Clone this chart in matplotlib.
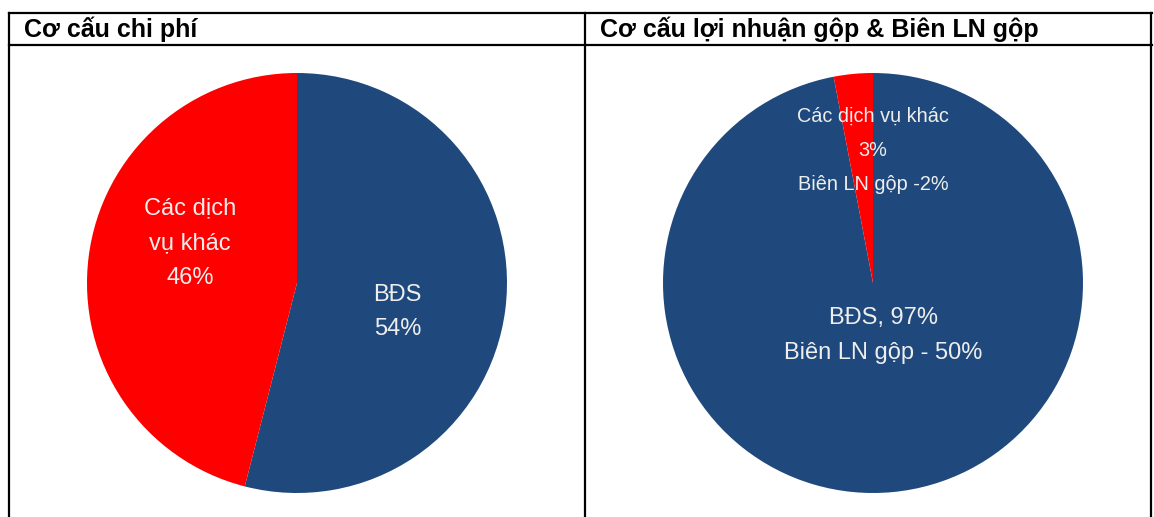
import matplotlib.pyplot as plt
from matplotlib.lines import Line2D

# Cơ cấu chi phí
chi_phi_nhan = ["BĐS", "Các dịch vụ khác"]
chi_phi = [54, 46]

# Cơ cấu lợi nhuận gộp
ln_nhan = ["BĐS", "Các dịch vụ khác"]
ln_gop = [97, 3]
bien_ln = [50, -2]

tieu_de = ["Cơ cấu chi phí", "Cơ cấu lợi nhuận gộp & Biên LN gộp"]

mau = ["#1F497D", "#FF0000"]
mau_chu = "#EEEEEE"

plt.rcParams['font.family'] = ['Liberation Sans', 'DejaVu Sans']

W, H = 1154, 517
fig = plt.figure(figsize=(W / 100, H / 100), dpi=100)
fig.patch.set_facecolor("white")


def px_ax(cx, cy, r):
    return fig.add_axes([(cx - r) / W, 1 - (cy + r) / H, 2 * r / W, 2 * r / H])


# khung bảng
def line(x0, y0, x1, y1):
    fig.add_artist(Line2D([x0 / W, x1 / W], [1 - y0 / H, 1 - y1 / H],
                          color="black", lw=1.6))

line(9, 13, 1152, 13)
line(9, 45, 1152, 45)
line(9, 13, 9, 517)
line(585, 13, 585, 517)
line(1151, 13, 1151, 517)

fig.text(24 / W, 1 - 29 / H, tieu_de[0], fontsize=18, fontweight="bold", va="center")
fig.text(600 / W, 1 - 29 / H, tieu_de[1], fontsize=18, fontweight="bold", va="center")

# biểu đồ trái
ax1 = px_ax(297, 283, 210)
ax1.pie(chi_phi, colors=mau, startangle=90, counterclock=False,
        wedgeprops=dict(linewidth=0))
ax1.set_xlim(-1, 1)
ax1.set_ylim(-1, 1)
ax1.text(-0.51, 0.19, "Các dịch\nvụ khác\n%d%%" % chi_phi[1], color=mau_chu,
         fontsize=17, ha="center", va="center", linespacing=1.75)
ax1.text(0.48, -0.14, "%s\n%d%%" % (chi_phi_nhan[0], chi_phi[0]), color=mau_chu,
         fontsize=17, ha="center", va="center", linespacing=1.7)

# biểu đồ phải
ax2 = px_ax(873, 283, 210)
ax2.pie(ln_gop, colors=mau, startangle=90, counterclock=False,
        wedgeprops=dict(linewidth=0))
ax2.set_xlim(-1, 1)
ax2.set_ylim(-1, 1)
ax2.text(0, 0.63, "%s\n%d%%\nBiên LN gộp %d%%" % (ln_nhan[1], ln_gop[1], bien_ln[1]),
         color=mau_chu, fontsize=14.3, ha="center", va="center", linespacing=2.0)
ax2.text(0.05, -0.25, "%s, %d%%\nBiên LN gộp - %d%%" % (ln_nhan[0], ln_gop[0], bien_ln[0]),
         color=mau_chu, fontsize=17, ha="center", va="center", linespacing=1.8)

fig.savefig("out.png", dpi=100)
